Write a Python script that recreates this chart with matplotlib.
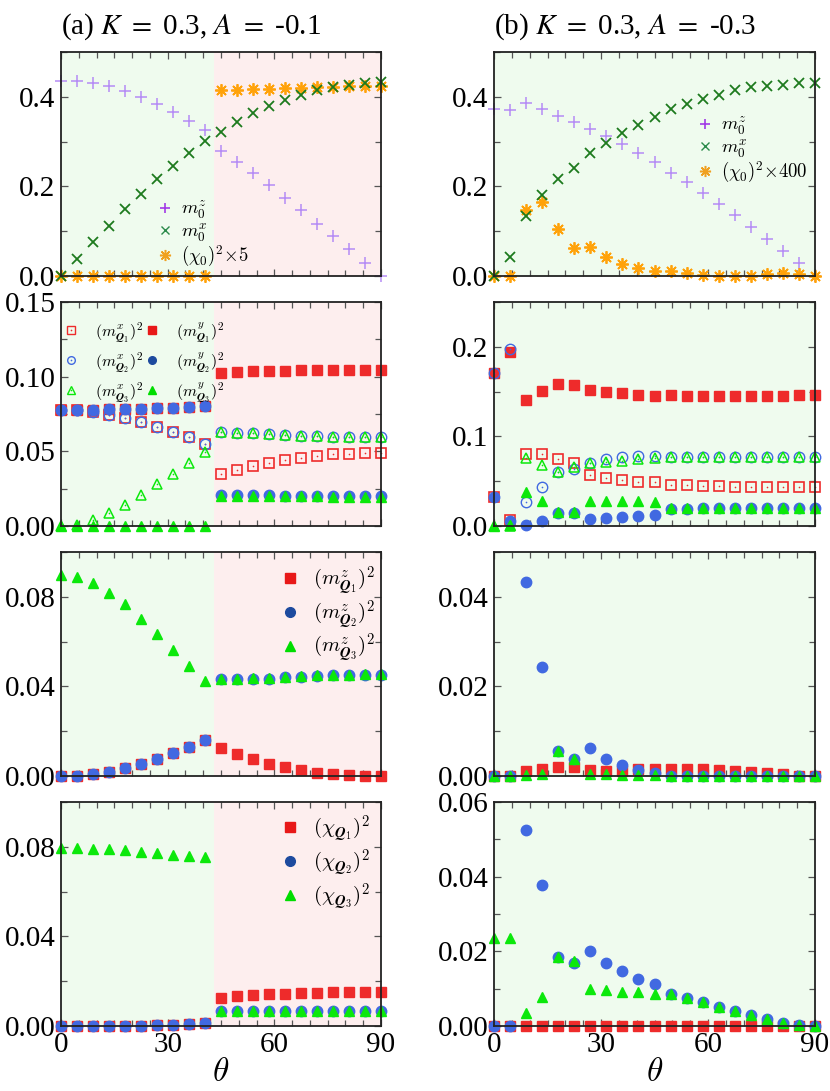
import matplotlib
matplotlib.use("Agg")
import matplotlib.pyplot as plt
from matplotlib.lines import Line2D
from matplotlib.ticker import MultipleLocator, FormatStrFormatter

plt.rcParams['font.family'] = ['Liberation Serif', 'DejaVu Serif']
plt.rcParams['mathtext.fontset'] = 'cm'

# ---------------- data ----------------
theta = [0, 4.5, 9, 13.5, 18, 22.5, 27, 31.5, 36, 40.5, 45,
         49.5, 54, 58.5, 63, 67.5, 72, 76.5, 81, 85.5, 90]
phase_boundary_a = 43.0

# (a) row 1
a_m0z = [0.436, 0.436, 0.430, 0.423, 0.413, 0.400, 0.384, 0.367, 0.346, 0.327, 0.279,
         0.255, 0.229, 0.203, 0.175, 0.147, 0.117, 0.089, 0.060, 0.030, 0.0]
a_m0x = [0.0, 0.039, 0.075, 0.112, 0.149, 0.184, 0.216, 0.246, 0.275, 0.301, 0.322,
         0.343, 0.363, 0.379, 0.393, 0.405, 0.415, 0.421, 0.427, 0.430, 0.432]
a_chi0 = [0.0, 0.0, 0.0, 0.0, 0.0, 0.0, 0.0, 0.0, 0.0, 0.0, 0.416,
          0.416, 0.418, 0.418, 0.419, 0.420, 0.421, 0.422, 0.423, 0.424, 0.424]
# (b) row 1
b_m0z = [0.372, 0.370, 0.387, 0.372, 0.358, 0.343, 0.329, 0.313, 0.294, 0.274, 0.254,
         0.231, 0.209, 0.186, 0.161, 0.136, 0.110, 0.083, 0.056, 0.028, 0.0]
b_m0x = [0.0, 0.042, 0.135, 0.181, 0.216, 0.242, 0.275, 0.297, 0.320, 0.338, 0.355,
         0.372, 0.385, 0.396, 0.405, 0.415, 0.421, 0.424, 0.427, 0.430, 0.430]
b_chi0 = [0.0, 0.0, 0.147, 0.166, 0.104, 0.062, 0.065, 0.043, 0.027, 0.017, 0.012,
          0.011, 0.006, 0.002, 0.001, 0.0, 0.0, 0.004, 0.006, 0.004, 0.0]

# (a) row 2
a_mx1 = [0.0780, 0.0778, 0.0765, 0.0745, 0.0720, 0.0695, 0.0665, 0.0630, 0.0593, 0.0548, 0.0347,
         0.0374, 0.0403, 0.0425, 0.0443, 0.0454, 0.0470, 0.0481, 0.0485, 0.0488, 0.0488]
a_mx2 = [0.0780, 0.0778, 0.0765, 0.0745, 0.0720, 0.0695, 0.0665, 0.0630, 0.0593, 0.0548, 0.0631,
         0.0626, 0.0620, 0.0615, 0.0609, 0.0604, 0.0600, 0.0593, 0.0593, 0.0593, 0.0593]
a_mx3 = [0.0, 0.0008, 0.0038, 0.0085, 0.0139, 0.0206, 0.0280, 0.0350, 0.0425, 0.0497, 0.0631,
         0.0626, 0.0620, 0.0615, 0.0609, 0.0604, 0.0600, 0.0593, 0.0593, 0.0593, 0.0593]
a_my1 = [0.0779, 0.0778, 0.0779, 0.0783, 0.0783, 0.0785, 0.0790, 0.0792, 0.0796, 0.0801, 0.1022,
         0.1029, 0.1036, 0.1040, 0.1040, 0.1045, 0.1045, 0.1045, 0.1045, 0.1045, 0.1045]
a_my2 = [0.0779, 0.0778, 0.0779, 0.0783, 0.0783, 0.0785, 0.0790, 0.0792, 0.0796, 0.0801, 0.0210,
         0.0208, 0.0207, 0.0205, 0.0203, 0.0202, 0.0201, 0.0200, 0.0200, 0.0200, 0.0200]
a_my3 = [0.0, 0.0, 0.0, 0.0, 0.0, 0.0, 0.0, 0.0, 0.0, 0.0, 0.0203,
         0.0202, 0.0201, 0.0200, 0.0199, 0.0198, 0.0198, 0.0197, 0.0197, 0.0197, 0.0197]
# (b) row 2
b_mx1 = [0.032, 0.0067, 0.080, 0.080, 0.0743, 0.0699, 0.0569, 0.0532, 0.0513, 0.0494, 0.0487,
         0.0457, 0.0457, 0.0446, 0.0446, 0.0439, 0.0439, 0.0439, 0.0439, 0.0439, 0.0439]
b_mx2 = [0.171, 0.197, 0.027, 0.043, 0.0606, 0.0633, 0.0706, 0.0747, 0.0773, 0.0784, 0.0784,
         0.0773, 0.0773, 0.0773, 0.0773, 0.0773, 0.0773, 0.0773, 0.0773, 0.0773, 0.0773]
b_mx3 = [0.0, 0.0, 0.0755, 0.068, 0.0606, 0.0654, 0.070, 0.071, 0.073, 0.0743, 0.0755,
         0.0773, 0.0773, 0.0773, 0.0773, 0.0773, 0.0773, 0.0773, 0.0773, 0.0773, 0.0773]
b_my1 = [0.171, 0.194, 0.1405, 0.151, 0.158, 0.157, 0.152, 0.150, 0.148, 0.146, 0.1455,
         0.146, 0.1455, 0.1452, 0.1452, 0.1452, 0.1452, 0.1455, 0.1455, 0.146, 0.146]
b_my2 = [0.032, 0.006, 0.001, 0.0056, 0.0149, 0.0149, 0.0074, 0.0085, 0.0097, 0.0112, 0.0123,
         0.0190, 0.0195, 0.0197, 0.0197, 0.0198, 0.0199, 0.0200, 0.0200, 0.0200, 0.0200]
b_my3 = [0.0, 0.001, 0.0375, 0.028, 0.016, 0.016, 0.028, 0.028, 0.028, 0.028, 0.027,
         0.0197, 0.0197, 0.0197, 0.0197, 0.0198, 0.0199, 0.0200, 0.0200, 0.0200, 0.0200]

# (a) row 3
a_mz1 = [0.0, 0.0, 0.0007, 0.0019, 0.0037, 0.0055, 0.0078, 0.0102, 0.0130, 0.0161, 0.0127,
         0.0100, 0.0075, 0.0055, 0.0040, 0.0025, 0.0015, 0.0007, 0.0003, 0.0, 0.0]
a_mz2 = [0.0, 0.0, 0.0007, 0.0019, 0.0037, 0.0055, 0.0078, 0.0102, 0.0130, 0.0161, 0.0431,
         0.0431, 0.0434, 0.0435, 0.0440, 0.0443, 0.0446, 0.0449, 0.0450, 0.0452, 0.0452]
a_mz3 = [0.0897, 0.0888, 0.0863, 0.0819, 0.0766, 0.0703, 0.0633, 0.0564, 0.0493, 0.0426, 0.0434,
         0.0434, 0.0437, 0.0438, 0.0443, 0.0446, 0.0449, 0.0452, 0.0453, 0.0455, 0.0455]
# (b) row 3
b_mz1 = [0.0, 0.0, 0.0011, 0.0016, 0.0019, 0.0019, 0.0013, 0.0011, 0.0011, 0.0015, 0.0015,
         0.0015, 0.0015, 0.0015, 0.0013, 0.0011, 0.0009, 0.0006, 0.0004, 0.0001, 0.0]
b_mz2 = [0.0, 0.0, 0.0432, 0.0243, 0.0056, 0.0039, 0.0062, 0.0039, 0.0024, 0.0013, 0.0007,
         0.0, 0.0, 0.0, 0.0, 0.0, 0.0, 0.0, 0.0, 0.0, 0.0]
b_mz3 = [0.0, 0.0, 0.0003, 0.0005, 0.0056, 0.0039, 0.0005, 0.0004, 0.0002, 0.0002, 0.0002,
         0.0, 0.0, 0.0, 0.0, 0.0, 0.0, 0.0, 0.0, 0.0, 0.0]

# (a) row 4
a_c1 = [0.0, 0.0, 0.0, 0.0001, 0.0001, 0.0002, 0.0003, 0.0005, 0.0008, 0.0012, 0.0127,
        0.0132, 0.0138, 0.0142, 0.0145, 0.0147, 0.0148, 0.0150, 0.0150, 0.0150, 0.0150]
a_c2 = [0.0, 0.0, 0.0, 0.0001, 0.0001, 0.0002, 0.0003, 0.0005, 0.0008, 0.0012, 0.0068,
        0.0068, 0.0067, 0.0067, 0.0066, 0.0066, 0.0066, 0.0065, 0.0065, 0.0065, 0.0065]
a_c3 = [0.0796, 0.0795, 0.0791, 0.0788, 0.0784, 0.0778, 0.0772, 0.0764, 0.0758, 0.0755, 0.0068,
        0.0068, 0.0067, 0.0067, 0.0066, 0.0066, 0.0066, 0.0065, 0.0065, 0.0065, 0.0065]
# (b) row 4
b_c1 = [0.0, 0.0001, 0.0001, 0.0001, 0.0001, 0.0001, 0.0001, 0.0001, 0.0001, 0.0001, 0.0001,
        0.0001, 0.0001, 0.0001, 0.0001, 0.0001, 0.0001, 0.0001, 0.0001, 0.0, 0.0]
b_c2 = [0.0, 0.0, 0.0524, 0.0379, 0.0184, 0.0170, 0.0200, 0.0168, 0.0148, 0.0127, 0.0112,
        0.0087, 0.0074, 0.0063, 0.0051, 0.0040, 0.0029, 0.0018, 0.0009, 0.0003, 0.0]
b_c3 = [0.0237, 0.0236, 0.0036, 0.0079, 0.0185, 0.0173, 0.0100, 0.0097, 0.0092, 0.0090, 0.0085,
        0.0087, 0.0074, 0.0063, 0.0051, 0.0040, 0.0029, 0.0018, 0.0009, 0.0003, 0.0]

titles = [r'(a) $K$ $=$ 0.3, $A$ $=$ -0.1', r'(b) $K$ $=$ 0.3, $A$ $=$ -0.3']
xticks = [0, 30, 60, 90]
xlabel = r'$\theta$'

# ---------------- style ----------------
RED = '#ee2b2b'
BLUE = '#4169e1'
GREEN = '#0be80b'
PURPLE = '#b58cf5'
DGREEN = '#1d7a1d'
ORANGE = '#ffa20a'
LRED = '#e81818'
LBLUE = '#1d4a9e'
LGREEN = '#00dd00'
LPURPLE = '#a23ae6'
LDGREEN = '#2a8a4a'
LORANGE = '#f0a020'
BG_GREEN = '#effbee'
BG_PINK = '#fdeeee'
ASTER = (8, 2, 0)

W, H = 830, 1091
fig = plt.figure(figsize=(W / 100, H / 100), dpi=100)

col_left = [61, 494]
col_w = [320, 321]
row_top = [52, 302, 552, 802]
row_h = 224

axes = [[None, None] for _ in range(4)]
for r in range(4):
    for c in range(2):
        rect = [col_left[c] / W, 1 - (row_top[r] + row_h) / H, col_w[c] / W, row_h / H]
        ax = fig.add_axes(rect)
        axes[r][c] = ax
        ax.set_xlim(0, 90)
        if c == 0:
            ax.axvspan(0, phase_boundary_a, color=BG_GREEN, zorder=0, lw=0)
            ax.axvspan(phase_boundary_a, 90, color=BG_PINK, zorder=0, lw=0)
        else:
            ax.axvspan(0, 90, color=BG_GREEN, zorder=0, lw=0)
        ax.xaxis.set_major_locator(MultipleLocator(30))
        ax.xaxis.set_minor_locator(MultipleLocator(5))
        ax.tick_params(which='both', direction='in', top=True, right=True,
                       color='#555555', labelsize=21, width=0.9)
        ax.tick_params(which='major', length=5, pad=4)
        ax.tick_params(which='minor', length=4)
        for s in ax.spines.values():
            s.set_linewidth(1.3)
            s.set_color('#222222')
            s.set_zorder(5)
        if r < 3:
            ax.tick_params(labelbottom=False)
        else:
            ax.set_xticks(xticks)
            ax.set_xlabel(xlabel, fontsize=24, labelpad=0)

# y axis settings: (ylim, major, minor, fmt)
ycfg = [
    [(0.5, 0.2, 0.1, '%.1f'), (0.5, 0.2, 0.1, '%.1f')],
    [(0.15, 0.05, 0.025, '%.2f'), (0.25, 0.1, 0.05, '%.1f')],
    [(0.1, 0.04, 0.02, '%.2f'), (0.05, 0.02, 0.01, '%.2f')],
    [(0.1, 0.04, 0.02, '%.2f'), (0.06, 0.02, 0.01, '%.2f')],
]
for r in range(4):
    for c in range(2):
        top, maj, mnr, fmt = ycfg[r][c]
        ax = axes[r][c]
        ax.set_ylim(0, top)
        ax.yaxis.set_major_locator(MultipleLocator(maj))
        ax.yaxis.set_minor_locator(MultipleLocator(mnr))
        ax.yaxis.set_major_formatter(FormatStrFormatter(fmt))

for c in range(2):
    axes[0][c].set_title(titles[c], loc='left', fontsize=21, pad=13,
                         math_fontfamily='stix')


def pts(ax, y, marker, color, ms=7, filled=True, mew=1.0, z=3, dot=False):
    if filled:
        ax.plot(theta, y, ls='none', marker=marker, ms=ms, mfc=color, mec=color,
                mew=mew, clip_on=False, zorder=z)
    else:
        ax.plot(theta, y, ls='none', marker=marker, ms=ms, mfc='none', mec=color,
                mew=mew, clip_on=False, zorder=z)
    if dot:
        ax.plot(theta, y, ls='none', marker='o', ms=1.2, mfc=color, mec=color,
                mew=0, clip_on=False, zorder=z)


def lh(marker, color, ms=6, filled=True, mew=1.0):
    return Line2D([], [], ls='none', marker=marker, ms=ms,
                  mfc=color if filled else 'none', mec=color, mew=mew)


# ---- row 1 ----
for c, (mz, mx, ch) in enumerate([(a_m0z, a_m0x, a_chi0), (b_m0z, b_m0x, b_chi0)]):
    ax = axes[0][c]
    pts(ax, mz, '+', PURPLE, ms=8.5, mew=1.1, z=3)
    pts(ax, mx, 'x', DGREEN, ms=7.5, mew=1.3, z=4)
    pts(ax, ch, ASTER, ORANGE, ms=9, mew=1.3, z=3.5)
labs1 = [[r'$m_0^z$', r'$m_0^x$', r'$(\chi_0)^2{\times}5$'],
         [r'$m_0^z$', r'$m_0^x$', r'$(\chi_0)^2{\times}400$']]
leg1_pos = [(0.30, 0.345), (0.63, 0.72)]
for c in range(2):
    hs = [lh('+', LPURPLE, 7, mew=1.2), lh('x', LDGREEN, 6, mew=1.0),
          lh(ASTER, LORANGE, 8, mew=1.1)]
    axes[0][c].legend(hs, labs1[c], loc='upper left', bbox_to_anchor=leg1_pos[c],
                      frameon=False, fontsize=13.5, handlelength=0.9, handletextpad=0.4,
                      labelspacing=0.0, borderpad=0, borderaxespad=0)

# ---- row 2 ----
for c, series in enumerate([(a_mx1, a_my1, a_mx2, a_my2, a_mx3, a_my3),
                            (b_mx1, b_my1, b_mx2, b_my2, b_mx3, b_my3)]):
    ax = axes[1][c]
    mx1, my1, mx2, my2, mx3, my3 = series
    pts(ax, mx1, 's', RED, ms=7.5, filled=False, mew=1.2, z=3.0, dot=True)
    pts(ax, my1, 's', RED, ms=7.5, z=3.1)
    pts(ax, mx2, 'o', BLUE, ms=7.5, filled=False, mew=1.0, z=3.2, dot=True)
    pts(ax, my2, 'o', BLUE, ms=7.5, z=3.3)
    pts(ax, mx3, '^', GREEN, ms=7.5, filled=False, mew=1.1, z=3.4, dot=True)
    pts(ax, my3, '^', GREEN, ms=7, z=3.5)

hs2 = [(lh('s', RED, 5.5, False, 1.0), lh('o', RED, 1.2, True, 0)),
       (lh('o', BLUE, 5.5, False, 1.0), lh('o', BLUE, 1.2, True, 0)),
       (lh('^', GREEN, 6, False, 1.0), lh('o', GREEN, 1.2, True, 0)),
       lh('s', LRED, 5.5), lh('o', LBLUE, 5.5), lh('^', LGREEN, 5.5)]
labs2 = [r'$(m^x_{\boldsymbol{Q}_1})^2$', r'$(m^x_{\boldsymbol{Q}_2})^2$', r'$(m^x_{\boldsymbol{Q}_3})^2$',
         r'$(m^y_{\boldsymbol{Q}_1})^2$', r'$(m^y_{\boldsymbol{Q}_2})^2$', r'$(m^y_{\boldsymbol{Q}_3})^2$']
axes[1][0].legend(hs2, labs2, loc='upper left', bbox_to_anchor=(0.01, 0.92), ncol=2,
                  frameon=False, fontsize=11.5, handlelength=0.8, handletextpad=1.1,
                  labelspacing=0.4, columnspacing=0.15, borderpad=0, borderaxespad=0)

# ---- row 3 ----
for c, (z1, z2, z3) in enumerate([(a_mz1, a_mz2, a_mz3), (b_mz1, b_mz2, b_mz3)]):
    ax = axes[2][c]
    pts(ax, z1, 's', RED, ms=7.5, z=3.0)
    pts(ax, z2, 'o', BLUE, ms=7.5, z=3.1)
    pts(ax, z3, '^', GREEN, ms=7.5, z=3.2)
hs3 = [lh('s', LRED, 7), lh('o', LBLUE, 7), lh('^', LGREEN, 7)]
labs3 = [r'$(m^z_{\boldsymbol{Q}_1})^2$', r'$(m^z_{\boldsymbol{Q}_2})^2$', r'$(m^z_{\boldsymbol{Q}_3})^2$']
axes[2][0].legend(hs3, labs3, loc='upper left', bbox_to_anchor=(0.69, 0.945),
                  frameon=False, fontsize=15, handlelength=0.8, handletextpad=0.7,
                  labelspacing=0.05, borderpad=0, borderaxespad=0)

# ---- row 4 ----
for c, (c1, c2, c3) in enumerate([(a_c1, a_c2, a_c3), (b_c1, b_c2, b_c3)]):
    ax = axes[3][c]
    pts(ax, c1, 's', RED, ms=7.5, z=3.0)
    pts(ax, c2, 'o', BLUE, ms=7.5, z=3.1)
    pts(ax, c3, '^', GREEN, ms=7.5, z=3.2)
hs4 = [lh('s', LRED, 7), lh('o', LBLUE, 7), lh('^', LGREEN, 7)]
labs4 = [r'$(\chi_{\boldsymbol{Q}_1})^2$', r'$(\chi_{\boldsymbol{Q}_2})^2$', r'$(\chi_{\boldsymbol{Q}_3})^2$']
axes[3][0].legend(hs4, labs4, loc='upper left', bbox_to_anchor=(0.69, 0.95),
                  frameon=False, fontsize=15, handlelength=0.8, handletextpad=0.7,
                  labelspacing=0.15, borderpad=0, borderaxespad=0)

fig.savefig('out.png', dpi=100)
